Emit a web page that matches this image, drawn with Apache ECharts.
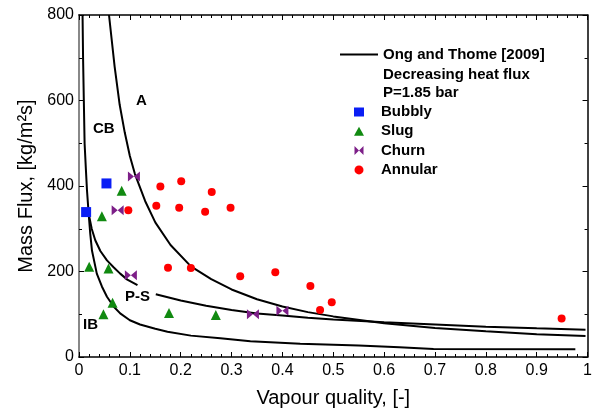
<!DOCTYPE html>
<html>
<head>
<meta charset="utf-8">
<script src="https://cdn.jsdelivr.net/npm/echarts@6/dist/echarts.min.js"></script>
<style>
  html, body { margin: 0; padding: 0; background: #fff; }
  #mychart { width: 595px; height: 414px; }
</style>
</head>
<body>
<div id="mychart"></div>
<script>
// measured points [vapour quality, mass flux]
const bubbly = [[0.014, 339], [0.054, 406]]
const slug = [[0.020, 211], [0.045, 329], [0.058, 207], [0.066, 127], [0.048, 100], [0.084, 389], [0.177, 103], [0.269, 98]]
const churn = [[0.076, 343], [0.108, 422], [0.102, 191], [0.342, 100], [0.400, 108]]
const annular = [
  [0.097, 343], [0.152, 354], [0.160, 399], [0.197, 349], [0.201, 411], [0.248, 340],
  [0.261, 386], [0.298, 349], [0.175, 209], [0.220, 208], [0.317, 189], [0.386, 198],
  [0.455, 166], [0.474, 110], [0.497, 128], [0.949, 90]
]

// transition lines (Ong and Thome 2009)
const curveA = [
  [0.059, 800], [0.07, 680], [0.08, 590], [0.09, 525], [0.1, 470], [0.11, 428], [0.13, 365],
  [0.15, 315], [0.18, 262], [0.22, 212], [0.26, 182], [0.3, 158], [0.35, 135], [0.4, 118],
  [0.45, 105], [0.5, 95], [0.6, 79], [0.7, 68], [0.8, 60], [0.9, 53], [0.996, 49]
]
const curveCB = [[0.007, 800], [0.008, 700], [0.0095, 600], [0.011, 500], [0.0135, 440], [0.0157, 390], [0.019, 335]]
const curveIB = [
  [0.019, 335], [0.022, 290], [0.0255, 249], [0.035, 195], [0.045, 165], [0.055, 141],
  [0.068, 118], [0.081, 102], [0.1, 86], [0.12, 76], [0.15, 66], [0.174, 59], [0.22, 50],
  [0.278, 44], [0.337, 37], [0.435, 31], [0.55, 27], [0.63, 23], [0.697, 19], [0.976, 18]
]
const curvePSLeft = [[0.019, 335], [0.025, 300], [0.032, 273], [0.042, 248], [0.055, 226], [0.068, 210], [0.081, 195], [0.095, 181], [0.115, 168]]
const curvePSRight = [
  [0.151, 147], [0.2, 132], [0.25, 120], [0.3, 110], [0.35, 102], [0.4, 97], [0.45, 92],
  [0.5, 88], [0.6, 81], [0.7, 76], [0.8, 71], [0.9, 67], [0.996, 64]
]

const lineName = 'Ong and Thome [2009]'
const font = 'Liberation Sans, Arial, sans-serif'
const bowtie = 'path://M0,0 L10,5 L0,10 Z M20,0 L10,5 L20,10 Z'
const bowtieIcon = 'path://M0,0 L5,5 L0,10 Z M10,0 L5,5 L10,10 Z'

function lineSeries(data) {
  return {
    name: lineName,
    type: 'line',
    data: data,
    symbol: 'none',
    smooth: false,
    lineStyle: { color: '#000', width: 2 },
    itemStyle: { color: '#000' },
    z: 2
  }
}

function pointSeries(name, data, symbol, size, color) {
  return {
    name: name,
    type: 'scatter',
    data: data,
    symbol: symbol,
    symbolSize: size,
    itemStyle: { color: color, opacity: 1 },
    z: 3
  }
}

const legendText = { fontFamily: font, fontSize: 15, fontWeight: 'bold', color: '#000' }

const option = {
  animation: false,
  textStyle: { fontFamily: font },
  grid: { left: 79, right: 4, top: 15, bottom: 57 },
  legend: [
    {
      data: [{ name: lineName, icon: 'rect', itemStyle: { color: '#000' } }],
      left: 340,
      top: 47,
      padding: 0,
      itemWidth: 38,
      itemHeight: 2,
      textStyle: legendText
    },
    {
      data: [
        { name: 'Bubbly', icon: 'rect' },
        { name: 'Slug', icon: 'triangle' },
        { name: 'Churn', icon: bowtieIcon },
        { name: 'Annular', icon: 'circle' }
      ],
      orient: 'vertical',
      left: 354,
      top: 103,
      padding: 0,
      itemWidth: 10,
      itemHeight: 9,
      itemGap: 1.3,
      textStyle: Object.assign({ lineHeight: 18, padding: [0, 0, 0, 12] }, legendText)
    }
  ],
  xAxis: [
    {
      type: 'value',
      min: 0,
      max: 1,
      interval: 0.1,
      name: 'Vapour quality, [-]',
      nameLocation: 'middle',
      nameGap: 31,
      nameTextStyle: { fontFamily: font, fontSize: 20, color: '#000' },
      axisLine: { onZero: false, lineStyle: { color: '#000', width: 1.5 } },
      axisTick: { inside: true, length: 5, lineStyle: { color: '#000' } },
      minorTick: { show: true, splitNumber: 5, length: 3, lineStyle: { color: '#000' } },
      axisLabel: { fontFamily: font, fontSize: 16, color: '#000', margin: 6 },
      splitLine: { show: false }
    },
    {
      type: 'value',
      position: 'top',
      min: 0,
      max: 1,
      interval: 0.1,
      axisLine: { onZero: false, lineStyle: { color: '#000', width: 1.5 } },
      axisTick: { inside: true, length: 5, lineStyle: { color: '#000' } },
      minorTick: { show: true, splitNumber: 5, length: 3, lineStyle: { color: '#000' } },
      axisLabel: { show: false },
      splitLine: { show: false }
    }
  ],
  yAxis: [
    {
      type: 'value',
      min: 0,
      max: 800,
      interval: 200,
      name: 'Mass Flux, [kg/m²s]',
      nameLocation: 'middle',
      nameGap: 42,
      nameTextStyle: { fontFamily: font, fontSize: 20, color: '#000' },
      axisLine: { onZero: false, lineStyle: { color: '#888', width: 2 } },
      axisTick: { inside: true, length: 5, lineStyle: { color: '#000' } },
      minorTick: { show: true, splitNumber: 2, length: 3, lineStyle: { color: '#000' } },
      axisLabel: { fontFamily: font, fontSize: 16, color: '#000', margin: 5 },
      splitLine: { show: false }
    },
    {
      type: 'value',
      position: 'right',
      min: 0,
      max: 800,
      interval: 200,
      axisLine: { onZero: false, lineStyle: { color: '#000', width: 1.5 } },
      axisTick: { inside: true, length: 5, lineStyle: { color: '#000' } },
      minorTick: { show: true, splitNumber: 2, length: 3, lineStyle: { color: '#000' } },
      axisLabel: { show: false },
      splitLine: { show: false }
    }
  ],
  graphic: [
    { type: 'text', left: 383, top: 67, style: { text: 'Decreasing heat flux', fontFamily: font, fontSize: 15, fontWeight: 'bold', fill: '#000' } },
    { type: 'text', left: 383, top: 85, style: { text: 'P=1.85 bar', fontFamily: font, fontSize: 15, fontWeight: 'bold', fill: '#000' } },
    { type: 'text', left: 136, top: 93, style: { text: 'A', fontFamily: font, fontSize: 15, fontWeight: 'bold', fill: '#000' } },
    { type: 'text', left: 93, top: 121, style: { text: 'CB', fontFamily: font, fontSize: 15, fontWeight: 'bold', fill: '#000' } },
    { type: 'text', left: 125, top: 289, style: { text: 'P-S', fontFamily: font, fontSize: 15, fontWeight: 'bold', fill: '#000' } },
    { type: 'text', left: 83, top: 317, style: { text: 'IB', fontFamily: font, fontSize: 15, fontWeight: 'bold', fill: '#000' } }
  ],
  series: [
    lineSeries(curveA),
    lineSeries(curveCB),
    lineSeries(curveIB),
    lineSeries(curvePSLeft),
    lineSeries(curvePSRight),
    pointSeries('Bubbly', bubbly, 'rect', 10, '#0a1ef5'),
    pointSeries('Slug', slug, 'triangle', 10, '#118a11'),
    pointSeries('Churn', churn, bowtie, [12, 10], '#7d1f88'),
    pointSeries('Annular', annular, 'circle', 8, '#ff0000')
  ]
}

const myChart = echarts.init(document.getElementById('mychart'))
myChart.setOption(option)
</script>
</body>
</html>
